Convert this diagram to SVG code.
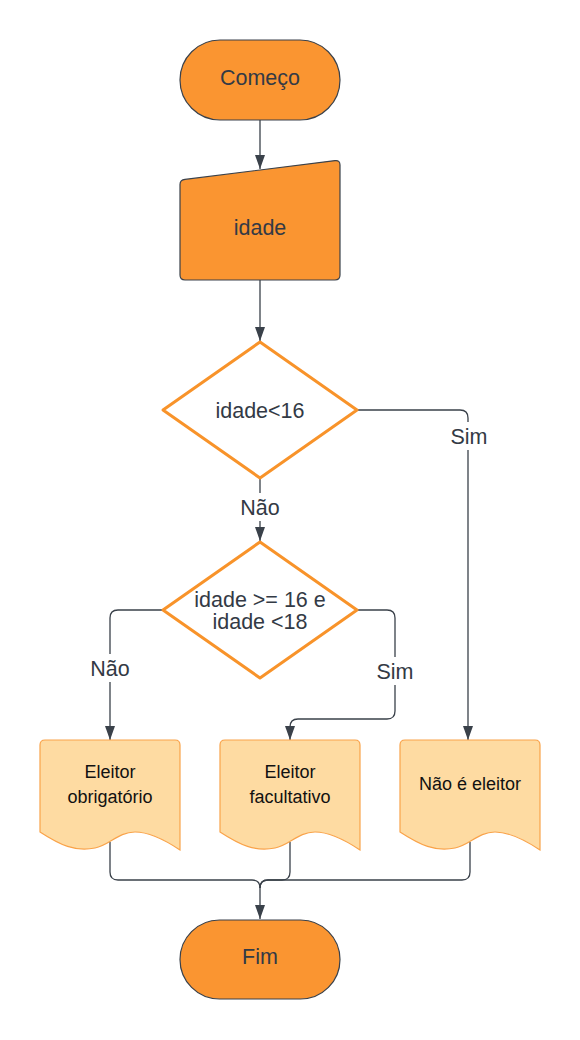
<svg xmlns="http://www.w3.org/2000/svg" width="580" height="1040" viewBox="0 0 580 1040">
<defs>
<style>
.t{font-family:"Liberation Sans",Arial,sans-serif;font-size:21.5px;fill:#333a45;text-anchor:middle}
.d{font-family:"Liberation Sans",Arial,sans-serif;font-size:18px;fill:#111111;text-anchor:middle}
.term{fill:#fa9531;stroke:#3a414a;stroke-width:1.2}
.dia{fill:#ffffff;stroke:#f8932a;stroke-width:3;stroke-linejoin:round}
.doc{fill:#fedba2;stroke:#f9a34a;stroke-width:1.2}
.c{fill:none;stroke:#3a414a;stroke-width:1.3}
</style>
<marker id="ah" markerWidth="14" markerHeight="10" refX="14" refY="5" orient="auto" markerUnits="userSpaceOnUse" viewBox="0 0 14 10">
<path d="M0,0 L14,5 L0,10 Z" fill="#3a414a"/>
</marker>
</defs>
<rect width="580" height="1040" fill="#ffffff"/>
<g id="connectors">
<path class="c" d="M260,120 L260,169" marker-end="url(#ah)"/>
<path class="c" d="M260,280 L260,341" marker-end="url(#ah)"/>
<path class="c" d="M260,479 L260,493"/>
<path class="c" d="M260,521 L260,541" marker-end="url(#ah)"/>
<path class="c" d="M357,410 L460,410 Q468,410 468,418 L468,422"/>
<path class="c" d="M468,450 L468,740" marker-end="url(#ah)"/>
<path class="c" d="M163,610 L118,610 Q110,610 110,618 L110,654"/>
<path class="c" d="M110,682 L110,740" marker-end="url(#ah)"/>
<path class="c" d="M357,610 L387,610 Q395,610 395,618 L395,657"/>
<path class="c" d="M395,685 L395,711 Q395,719 387,719 L298,719 Q290,719 290,727 L290,740" marker-end="url(#ah)"/>
<path class="c" d="M110,842 L110,872 Q110,880 118,880 L252,880 Q260,880 260,888 L260,919" marker-end="url(#ah)"/>
<path class="c" d="M290,842 L290,872 Q290,880 282,880 L268,880 Q260,880 260,888"/>
<path class="c" d="M470,842 L470,872 Q470,880 462,880 L268,880 Q260,880 260,888"/>
<rect x="446" y="423" width="46" height="26" fill="#ffffff"/>
<text class="t" x="469" y="443.5">Sim</text>
<rect x="234" y="494" width="52" height="26" fill="#ffffff"/>
<text class="t" x="260" y="514.5">Não</text>
<rect x="84" y="655" width="52" height="26" fill="#ffffff"/>
<text class="t" x="110" y="675.5">Não</text>
<rect x="372" y="658" width="46" height="26" fill="#ffffff"/>
<text class="t" x="395" y="678.5">Sim</text>
</g>
<g id="comeco">
<rect class="term" x="180" y="40" width="160" height="80" rx="40" ry="40"/>
<text class="t" x="260" y="85">Começo</text>
</g>
<g id="idade">
<path class="term" d="M185,179.4 L335,160.6 Q340,160 340,165 L340,275 Q340,280 335,280 L185,280 Q180,280 180,275 L180,184.4 Q180,180 185,179.4 Z"/>
<text class="t" x="260" y="234.5">idade</text>
</g>
<g id="decisao1">
<path class="dia" d="M260,342 L357,410 L260,478 L163,410 Z"/>
<text class="t" x="260" y="417.5">idade&lt;16</text>
</g>
<g id="decisao2">
<path class="dia" d="M260,542 L357,610 L260,678 L163,610 Z"/>
<text class="t" x="260" y="607">idade &gt;= 16 e</text>
<text class="t" x="260" y="629">idade &lt;18</text>
</g>
<g id="obrigatorio">
<path class="doc" d="M45,740 L175,740 Q180,740 180,745 L180,850 C165,840 150,832 135,832 C118,832 110,845 95,848 C75,852 60,845 40,832 L40,745 Q40,740 45,740 Z"/>
<text class="d" x="110" y="778">Eleitor</text>
<text class="d" x="110" y="803">obrigatório</text>
</g>
<g id="facultativo">
<path class="doc" d="M225,740 L355,740 Q360,740 360,745 L360,850 C345,840 330,832 315,832 C298,832 290,845 275,848 C255,852 240,845 220,832 L220,745 Q220,740 225,740 Z"/>
<text class="d" x="290" y="778">Eleitor</text>
<text class="d" x="290" y="803">facultativo</text>
</g>
<g id="naoeleitor">
<path class="doc" d="M405,740 L535,740 Q540,740 540,745 L540,850 C525,840 510,832 495,832 C478,832 470,845 455,848 C435,852 420,845 400,832 L400,745 Q400,740 405,740 Z"/>
<text class="d" x="470" y="790">Não é eleitor</text>
</g>
<g id="fim">
<rect class="term" x="180" y="920" width="160" height="79" rx="39.5" ry="39.5"/>
<text class="t" x="260" y="964">Fim</text>
</g>
</svg>
